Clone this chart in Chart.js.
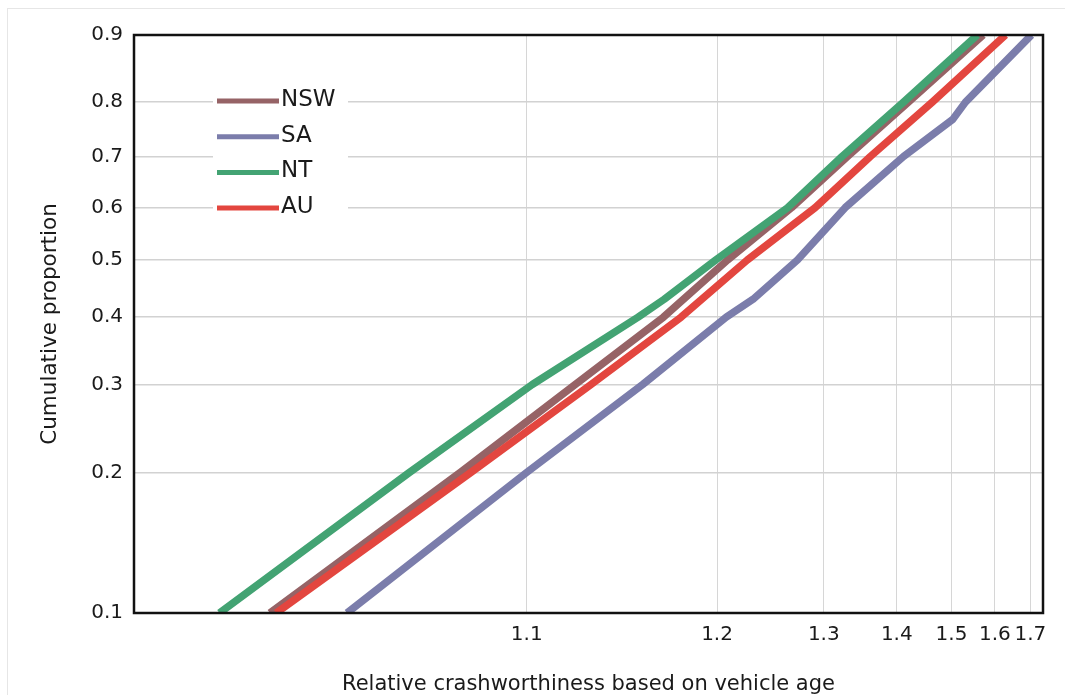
<!DOCTYPE html>
<html>
<head>
<meta charset="utf-8">
<title>Relative crashworthiness based on vehicle age</title>
<script src="https://cdn.jsdelivr.net/npm/chart.js@4.4.1/dist/chart.umd.min.js"></script>
<style>
  html, body { margin: 0; padding: 0; background: #fff; }
  #wrap { position: relative; width: 1065px; height: 695px; overflow: hidden; }
  #card { position: absolute; left: 7px; top: 8px; width: 1200px; height: 800px; border: 1px solid #e6e6e6; }
  #chart { position: absolute; left: 0; top: 0; }
</style>
</head>
<body>
<div id="wrap">
  <div id="card"></div>
  <canvas id="chart" width="1065" height="695"></canvas>
</div>
<script>
// cumulative proportion (y) and relative crashworthiness (x) for each state
const nswProb = [0.1, 0.2, 0.3, 0.4, 0.5, 0.6, 0.7, 0.8, 0.9];
const nswValues = [1.0405, 1.079, 1.119, 1.164, 1.208, 1.265, 1.329, 1.419, 1.571];

const saProb = [0.1, 0.2, 0.3, 0.4, 0.43, 0.5, 0.6, 0.7, 0.77, 0.8, 0.9];
const saValues = [1.053, 1.100, 1.152, 1.207, 1.229, 1.271, 1.326, 1.411, 1.503, 1.530, 1.703];

const ntProb = [0.1, 0.2, 0.3, 0.4, 0.43, 0.5, 0.6, 0.7, 0.8, 0.9];
const ntValues = [1.034, 1.066, 1.102, 1.1495, 1.1645, 1.199, 1.261, 1.322, 1.411, 1.557];

const auProb = [0.1, 0.2, 0.3, 0.4, 0.5, 0.6, 0.7, 0.8, 0.9];
const auValues = [1.0414, 1.082, 1.126, 1.175, 1.224, 1.290, 1.360, 1.462, 1.628];

const xTicks = [1.1, 1.2, 1.3, 1.4, 1.5, 1.6, 1.7];
const yTicks = [0.1, 0.2, 0.3, 0.4, 0.5, 0.6, 0.7, 0.8, 0.9];

// probability paper: x is log(log(x)), y is log(-log(1-p))
function makeScale(id, fwd, inv) {
  class PaperScale extends Chart.Scale {
    determineDataLimits() {
      this.min = this.options.min;
      this.max = this.options.max;
    }
    buildTicks() {
      return [];
    }
    getLabelForValue(v) {
      return "" + v;
    }
    configure() {
      super.configure();
      this._a = fwd(this.min);
      this._b = fwd(this.max);
    }
    getPixelForValue(v) {
      return this.getPixelForDecimal((fwd(v) - this._a) / (this._b - this._a));
    }
    getValueForPixel(px) {
      return inv(this._a + this.getDecimalForPixel(px) * (this._b - this._a));
    }
  }
  PaperScale.id = id;
  PaperScale.defaults = {};
  return PaperScale;
}

Chart.register(
  makeScale("loglog", (v) => Math.log(Math.log(v)), (t) => Math.exp(Math.exp(t))),
  makeScale("weibull", (p) => Math.log(-Math.log(1 - p)), (t) => 1 - Math.exp(-Math.exp(t)))
);

function toPoints(values, probs) {
  return values.map((v, i) => ({ x: v, y: probs[i] }));
}

const fontFamily = "'DejaVu Sans', sans-serif";

const boxPlugin = {
  id: "boxPlugin",
  beforeDatasetsDraw(chart) {
    const ctx = chart.ctx;
    const area = chart.chartArea;
    ctx.save();
    // legend sits inside the plot on a white patch
    const lx = area.left + 79;
    const ly = area.top + 48;
    ctx.fillStyle = "#fff";
    ctx.fillRect(lx, ly, 135, 143);
    ctx.font = "23px " + fontFamily;
    ctx.textBaseline = "middle";
    chart.data.datasets.forEach((ds, i) => {
      const y = ly + 18 + i * 35.7;
      ctx.strokeStyle = ds.borderColor;
      ctx.lineWidth = 5;
      ctx.beginPath();
      ctx.moveTo(lx + 4, y);
      ctx.lineTo(lx + 66, y);
      ctx.stroke();
      ctx.fillStyle = "#1a1a1a";
      ctx.fillText(ds.label, lx + 68, y - 1);
    });
    ctx.restore();
  },
  afterDatasetsDraw(chart) {
    const ctx = chart.ctx;
    const { left, top, right, bottom } = chart.chartArea;
    ctx.save();
    ctx.strokeStyle = "#111";
    ctx.lineWidth = 2.5;
    ctx.strokeRect(left, top, right - left, bottom - top);
    ctx.restore();
  },
};

function lineSet(label, values, probs, color, order) {
  return {
    label: label,
    data: toPoints(values, probs),
    borderColor: color,
    backgroundColor: color,
    borderWidth: 7.5,
    pointRadius: 0,
    tension: 0,
    borderCapStyle: "butt",
    borderJoinStyle: "round",
    clip: 0,
    order: order,
  };
}

Chart.defaults.font.family = fontFamily;
Chart.defaults.color = "#1a1a1a";

new Chart(document.getElementById("chart"), {
  type: "line",
  data: {
    datasets: [
      lineSet("NSW", nswValues, nswProb, "#966366", 4),
      lineSet("SA", saValues, saProb, "#7b7dab", 3),
      lineSet("NT", ntValues, ntProb, "#43a373", 2),
      lineSet("AU", auValues, auProb, "#e3463f", 1),
    ],
  },
  options: {
    responsive: false,
    animation: false,
    layout: { padding: { top: 35, right: 22, bottom: 0, left: 0 } },
    plugins: {
      legend: { display: false },
      tooltip: { enabled: false },
    },
    scales: {
      x: {
        type: "loglog",
        position: "bottom",
        min: 1.0253,
        max: 1.74,
        afterBuildTicks: (scale) => {
          scale.ticks = xTicks.map((v) => ({ value: v }));
        },
        afterFit: (scale) => {
          scale.height = 82;
        },
        ticks: {
          autoSkip: false,
          maxRotation: 0,
          minRotation: 0,
          padding: 10,
          font: { size: 20 },
        },
        grid: { color: "#d6d6d6", lineWidth: 1, drawTicks: false },
        border: { display: false },
        title: {
          display: true,
          text: "Relative crashworthiness based on vehicle age",
          font: { size: 21, lineHeight: 1 },
          padding: 0,
        },
      },
      y: {
        type: "weibull",
        position: "left",
        min: 0.1,
        max: 0.9,
        afterBuildTicks: (scale) => {
          scale.ticks = yTicks.map((v) => ({ value: v }));
        },
        afterFit: (scale) => {
          scale.width = 134;
        },
        ticks: { padding: 11, font: { size: 20 } },
        grid: { color: "#d2d2d2", lineWidth: 1.5, drawTicks: false },
        border: { display: false },
        title: {
          display: true,
          text: "Cumulative proportion",
          font: { size: 21.5, lineHeight: 1.2 },
          padding: { top: 38, bottom: 0 },
        },
      },
    },
  },
  plugins: [boxPlugin],
});
</script>
</body>
</html>
